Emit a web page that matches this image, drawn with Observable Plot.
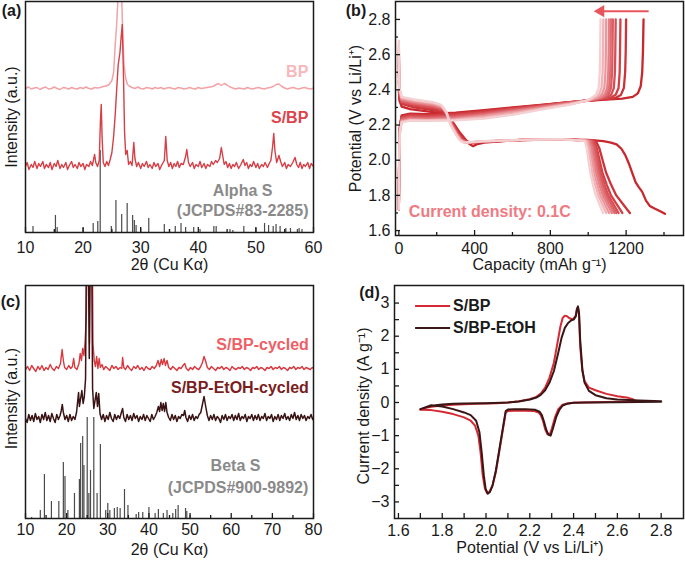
<!DOCTYPE html>
<html><head><meta charset="utf-8">
<script src="https://cdn.jsdelivr.net/npm/d3@7"></script>
<script src="https://cdn.jsdelivr.net/npm/@observablehq/plot@0.6"></script>
<style>
html,body{margin:0;padding:0;background:#fff;}
#wrap{position:relative;width:685px;height:562px;overflow:hidden;background:#fff;}
#wrap > svg{position:absolute;}
</style></head><body><div id="wrap"></div>
<script>
// ---------------- Panel (a): XRD ----------------
const xrdBP = [[10,144],[10.5,145.5],[11,143.5],[11.5,144.5],[12,145],[12.5,143],[13,144.5],[13.5,145.5],[14,143.5],[14.5,144],[15,145.5],[15.5,144],[16,143],[16.5,145],[17,144.5],[17.5,143.5],[18,145],[18.5,144],[19,143.5],[19.5,145],[20,144],[20.5,145.5],[21,144],[21.5,143.5],[22,145],[22.5,144.5],[23,145],[23.5,146],[24,146.5],[24.5,148],[25,152],[25.3,160],[25.6,190],[25.8,205],[26.0,228],[26.2,260],[26.5,260],[26.7,235],[26.9,195],[27.1,168],[27.4,154],[27.7,148],[28,146.5],[28.5,145],[29,144],[29.5,145.5],[30,144],[30.5,143.5],[31,145],[31.5,144.5],[32,143.5],[32.5,145],[33,144],[33.5,145],[34,143.5],[34.5,144.5],[35,145],[35.5,144],[36,143.5],[36.5,145],[37,144.5],[37.5,143.5],[38,144],[38.5,145],[39,144],[39.5,143.5],[40,145],[40.5,144],[41,144.5],[41.5,145],[42,145.5],[42.5,146],[43,147.5],[43.5,149],[44,147],[44.5,149],[45,147.5],[45.5,145.5],[46,144.5],[46.5,143.5],[47,144.5],[47.5,144],[48,143.5],[48.5,145],[49,144],[49.5,143.5],[50,144.5],[50.5,145],[51,144],[51.5,143.5],[52,144.5],[52.5,145],[53,146],[53.5,148],[54,148.5],[54.5,146],[55,144.5],[55.5,143.5],[56,144.5],[56.5,145],[57,144],[57.5,143.5],[58,144.5],[58.5,145],[59,144],[59.5,143.5],[60,144.5]];
const xrdSBP = [[10,66],[10.3,70],[10.6,63],[11,68],[11.3,65],[11.6,71],[12,64],[12.3,69],[12.6,66],[13,71],[13.3,64],[13.6,68],[14,65],[14.3,70],[14.6,63],[15,69],[15.3,66],[15.6,72],[16,64],[16.3,68],[16.6,65],[17,70],[17.3,63],[17.6,67],[18,71],[18.3,65],[18.6,68],[19,64],[19.3,70],[19.6,66],[20,69],[20.3,63],[20.6,68],[21,66],[21.3,71],[21.6,67],[22,78],[22.2,70],[22.5,66],[22.8,72],[23.0,110],[23.15,128],[23.3,95],[23.5,70],[23.8,66],[24.1,71],[24.4,67],[24.7,73],[25.0,80],[25.3,96],[25.6,120],[25.9,150],[26.1,168],[26.4,180],[26.6,195],[26.8,208],[27.0,160],[27.2,100],[27.4,78],[27.65,82],[27.9,68],[28.2,71],[28.5,67],[28.8,90],[29.0,74],[29.3,66],[29.6,70],[30,64],[30.3,69],[30.6,66],[31,71],[31.3,65],[31.6,68],[32,64],[32.3,70],[32.6,66],[33,69],[33.3,63],[33.7,68],[34.1,72],[34.35,96],[34.6,72],[34.9,66],[35.2,70],[35.5,64],[35.8,69],[36.1,66],[36.4,71],[36.7,65],[37.0,69],[37.4,68],[37.8,76],[38.0,83],[38.3,70],[38.6,66],[39,70],[39.3,64],[39.6,68],[40,66],[40.3,71],[40.6,65],[41,69],[41.3,64],[41.6,68],[42,66],[42.3,71],[42.6,68],[43,72],[43.3,70],[43.7,74],[44.0,85],[44.2,78],[44.5,68],[44.8,71],[45.1,65],[45.4,69],[45.7,64],[46,68],[46.3,66],[46.6,70],[47,64],[47.4,68],[47.8,73],[48.1,67],[48.4,70],[48.7,64],[49,68],[49.3,66],[49.6,71],[50,65],[50.3,69],[50.6,64],[51,68],[51.3,66],[51.6,70],[52,65],[52.3,69],[52.6,72],[52.9,86],[53.1,99],[53.3,82],[53.6,70],[54.0,77],[54.3,71],[54.6,66],[55,70],[55.3,64],[55.6,68],[56,66],[56.4,70],[56.8,75],[57.1,68],[57.4,65],[57.7,70],[58,64],[58.3,68],[58.6,66],[59,70],[59.3,64],[59.6,69],[60,66]];
const alphaS = [[11.3,6],[15.2,17],[15.5,5],[20.0,4],[21.75,9],[22.55,11],[22.97,82],[24.9,6],[25.7,32],[26.7,18],[27.65,29],[28.6,17],[28.9,12],[29.2,7],[30.0,4],[31.4,14],[34.1,8],[35.0,3],[36.0,6],[37.0,9],[37.8,5],[39.2,5],[40.3,3],[42.7,6],[43.1,6],[45.5,3],[46.0,2],[47.9,6],[50.0,4],[51.5,9],[52.2,7],[53.0,6],[53.5,8],[54.2,6],[55.2,4],[56.0,4],[57.2,3],[57.5,4],[58.0,3]];
const aTicksMajor = [10,20,30,40,50,60];
const aTicksMinor = [15,25,35,45,55];

// ---------------- Panel (b): charge/discharge ----------------
const cycleColors = ["#c8282d","#cd3439","#d14046","#d64d53","#da5b61","#df6d72","#e48186","#ea989c","#f0b3b6","#f5d0d2"];
const dischargeCurves = [
 [[0,2.40],[3,2.34],[15,2.305],[60,2.29],[130,2.28],[200,2.27],[245,2.262],[270,2.24],[295,2.20],[320,2.16],[350,2.12],[375,2.09],[392,2.08],[410,2.09],[450,2.10],[600,2.112],[800,2.118],[1000,2.115],[1080,2.108],[1120,2.10],[1150,2.09],[1175,2.065],[1195,2.03],[1215,1.98],[1235,1.92],[1250,1.875],[1265,1.85],[1285,1.82],[1305,1.77],[1325,1.74],[1350,1.725],[1380,1.71],[1405,1.695]],
 [[0,2.45],[3,2.36],[15,2.32],[80,2.30],[180,2.285],[240,2.27],[265,2.24],[290,2.20],[318,2.15],[345,2.115],[375,2.10],[450,2.105],[650,2.115],[850,2.12],[1040,2.11],[1058,2.07],[1076,2.0],[1094,1.93],[1121,1.86],[1148,1.80],[1184,1.75],[1220,1.70]],
 [[0,2.50],[3,2.37],[15,2.325],[80,2.31],[180,2.295],[237,2.28],[262,2.245],[287,2.20],[314,2.15],[340,2.115],[370,2.10],[450,2.105],[650,2.115],[850,2.12],[1030,2.11],[1045,2.07],[1060,2.0],[1075,1.93],[1098,1.86],[1120,1.80],[1150,1.75],[1180,1.70]],
 [[0,2.54],[3,2.38],[15,2.33],[80,2.315],[180,2.30],[235,2.285],[260,2.25],[285,2.20],[311,2.15],[337,2.115],[366,2.10],[450,2.105],[650,2.115],[850,2.12],[1025,2.11],[1039,2.07],[1052,2.0],[1066,1.93],[1086,1.86],[1106,1.80],[1133,1.75],[1160,1.70]],
 [[0,2.57],[3,2.39],[15,2.335],[80,2.32],[180,2.305],[233,2.29],[258,2.255],[283,2.20],[309,2.15],[334,2.115],[362,2.10],[450,2.106],[650,2.115],[850,2.12],[1020,2.11],[1033,2.07],[1046,2.0],[1058,1.93],[1078,1.86],[1097,1.80],[1122,1.75],[1148,1.70]],
 [[0,2.60],[3,2.39],[15,2.34],[80,2.325],[180,2.31],[231,2.295],[256,2.26],[281,2.20],[307,2.15],[331,2.115],[358,2.10],[450,2.106],[650,2.115],[850,2.12],[1012,2.11],[1025,2.07],[1037,2.0],[1050,1.93],[1069,1.86],[1088,1.80],[1113,1.75],[1138,1.70]],
 [[0,2.62],[3,2.40],[15,2.345],[80,2.33],[180,2.315],[229,2.30],[254,2.265],[279,2.20],[305,2.15],[328,2.115],[354,2.10],[450,2.107],[650,2.115],[850,2.12],[1005,2.11],[1017,2.07],[1029,2.0],[1041,1.93],[1059,1.86],[1077,1.80],[1101,1.75],[1125,1.70]],
 [[0,2.64],[3,2.40],[15,2.35],[80,2.335],[180,2.32],[227,2.305],[252,2.27],[277,2.20],[303,2.15],[325,2.115],[350,2.10],[450,2.107],[650,2.115],[850,2.12],[998,2.11],[1009,2.07],[1020,2.0],[1032,1.93],[1048,1.86],[1065,1.80],[1088,1.75],[1110,1.70]],
 [[0,2.66],[3,2.41],[15,2.355],[80,2.34],[180,2.325],[225,2.31],[250,2.275],[275,2.20],[301,2.15],[322,2.115],[346,2.10],[450,2.108],[650,2.115],[850,2.12],[990,2.11],[1000,2.07],[1011,2.0],[1021,1.93],[1037,1.86],[1053,1.80],[1074,1.75],[1095,1.70]],
 [[0,2.68],[3,2.41],[15,2.36],[80,2.345],[180,2.33],[223,2.315],[248,2.28],[273,2.20],[299,2.15],[320,2.115],[342,2.10],[450,2.108],[650,2.115],[850,2.12],[982,2.11],[992,2.07],[1001,2.0],[1011,1.93],[1025,1.86],[1040,1.80],[1059,1.75],[1078,1.70]]
];
const chargeCurves = [
 [[0,1.72],[2,2.05],[6,2.2],[15,2.255],[60,2.265],[150,2.262],[300,2.27],[450,2.285],[600,2.30],[750,2.315],[900,2.33],[1050,2.342],[1180,2.35],[1235,2.36],[1262,2.38],[1277,2.42],[1285,2.5],[1289,2.62],[1292,2.80]],
 [[0,1.72],[2,2.04],[6,2.19],[15,2.25],[60,2.26],[150,2.257],[300,2.265],[450,2.28],[600,2.297],[750,2.313],[900,2.33],[1050,2.343],[1140,2.352],[1172,2.37],[1188,2.41],[1195,2.5],[1198,2.62],[1200,2.80]],
 [[0,1.72],[2,2.03],[6,2.19],[15,2.245],[60,2.255],[150,2.252],[300,2.26],[450,2.275],[600,2.294],[750,2.311],[900,2.329],[1050,2.344],[1118,2.355],[1145,2.372],[1160,2.41],[1166,2.5],[1168,2.62],[1170,2.80]],
 [[0,1.72],[2,2.03],[6,2.18],[15,2.24],[60,2.25],[150,2.247],[300,2.254],[450,2.27],[600,2.29],[750,2.309],[900,2.328],[1040,2.345],[1095,2.355],[1121,2.372],[1135,2.41],[1141,2.5],[1143,2.62],[1145,2.80]],
 [[0,1.72],[2,2.02],[6,2.18],[15,2.235],[60,2.245],[150,2.242],[300,2.249],[450,2.265],[600,2.286],[750,2.306],[900,2.327],[1030,2.345],[1080,2.355],[1106,2.372],[1120,2.41],[1126,2.5],[1128,2.62],[1130,2.80]],
 [[0,1.72],[2,2.02],[6,2.18],[15,2.23],[60,2.24],[150,2.237],[300,2.244],[450,2.26],[600,2.282],[750,2.303],[900,2.325],[1025,2.345],[1070,2.355],[1096,2.372],[1110,2.41],[1116,2.5],[1118,2.62],[1120,2.80]],
 [[0,1.72],[2,2.01],[6,2.17],[15,2.225],[60,2.235],[150,2.232],[300,2.239],[450,2.255],[600,2.278],[750,2.30],[900,2.323],[1020,2.345],[1060,2.355],[1086,2.372],[1100,2.41],[1106,2.5],[1108,2.62],[1110,2.80]],
 [[0,1.72],[2,2.01],[6,2.17],[15,2.22],[60,2.23],[150,2.228],[300,2.234],[450,2.25],[600,2.272],[750,2.296],[900,2.32],[1010,2.342],[1045,2.355],[1071,2.372],[1085,2.41],[1091,2.5],[1093,2.62],[1095,2.80]],
 [[0,1.72],[2,2.0],[6,2.17],[15,2.218],[60,2.228],[150,2.226],[300,2.23],[450,2.243],[600,2.265],[750,2.292],[900,2.318],[1000,2.34],[1030,2.355],[1056,2.372],[1070,2.41],[1076,2.5],[1078,2.62],[1080,2.80]],
 [[0,1.72],[2,2.0],[6,2.16],[15,2.215],[60,2.225],[150,2.223],[300,2.226],[450,2.236],[600,2.258],[750,2.288],[900,2.315],[990,2.338],[1015,2.352],[1041,2.372],[1055,2.41],[1061,2.5],[1063,2.62],[1065,2.80]]
];
const bXMajor = [0,400,800,1200];
const bXMinor = [200,600,1000,1400];
const bYMajor = [1.6,1.8,2.0,2.2,2.4,2.6,2.8];
const bYMinor = [1.7,1.9,2.1,2.3,2.5,2.7];
const bArrow = [{x1:1319, x2:1070, y:2.847}];
const bArrowHead = [{x:1066, y:2.847}];
const bNote = [{x:53, y:1.708, text:"Current density: 0.1C"}];

// ---------------- Panel (c): XRD cycled ----------------
const xrdCycled = [[10,149],[10.5,152],[11,148],[11.5,153],[12,150],[12.5,147],[13,152],[13.5,149],[14,153],[14.5,148],[15,151],[15.5,149],[16,154],[16.5,150],[17,148],[17.5,152],[18,150],[18.5,155],[18.9,169],[19.2,158],[19.5,151],[20,149],[20.5,153],[21,150],[21.4,152],[21.7,160],[22,151],[22.5,149],[23,155],[23.3,165],[23.6,158],[23.9,170],[24.2,163],[24.5,178],[24.8,205],[25.0,300],[25.3,300],[25.55,175],[25.8,300],[26.2,300],[26.4,175],[26.7,158],[27.0,152],[27.3,162],[27.6,150],[27.9,160],[28.2,151],[28.6,154],[29,149],[29.5,152],[30,150],[30.5,148],[31,153],[31.5,150],[32,152],[32.5,149],[33,151],[33.4,150],[33.6,161],[33.9,151],[34.3,149],[34.8,153],[35.3,150],[35.8,148],[36.3,152],[36.8,150],[37.3,153],[37.8,149],[38.3,151],[38.8,148],[39.3,152],[39.8,150],[40.3,149],[40.8,152],[41.3,150],[41.8,153],[42.2,158],[42.6,152],[43.0,159],[43.3,154],[43.7,160],[44.0,153],[44.4,158],[44.8,151],[45.3,149],[45.8,152],[46.3,150],[46.8,148],[47.3,151],[47.8,150],[48.3,153],[48.7,155],[49.1,150],[49.6,148],[50.1,151],[50.6,149],[51.1,152],[51.6,150],[52.1,149],[52.6,152],[53.0,156],[53.4,162],[53.8,157],[54.2,151],[54.7,149],[55.2,152],[55.7,150],[56.2,148],[56.7,151],[57.2,150],[57.7,152],[58.2,149],[58.7,151],[59.2,150],[59.7,148],[60.2,152],[60.7,150],[61.2,149],[61.7,151],[62.2,150],[62.7,152],[63.2,149],[63.7,151],[64.2,150],[64.7,148],[65.2,151],[65.7,150],[66.2,152],[66.7,149],[67.2,151],[67.7,150],[68.2,148],[68.7,151],[69.2,150],[69.7,152],[70.2,149],[70.7,151],[71.2,150],[71.7,152],[72.2,149],[72.7,151],[73.2,150],[73.7,148],[74.2,151],[74.7,150],[75.2,152],[75.7,149],[76.2,151],[76.7,150],[77.2,152],[77.7,149],[78.2,151],[78.7,150],[79.2,149],[79.7,151],[80,150]];
const xrdEtOHCycled = [[10,100],[10.4,96],[10.8,104],[11.2,98],[11.6,103],[12,97],[12.4,105],[12.8,99],[13.2,102],[13.6,96],[14,104],[14.4,99],[14.8,106],[15.2,98],[15.6,103],[16,97],[16.4,105],[16.8,100],[17.2,96],[17.6,104],[18,99],[18.4,103],[18.7,108],[18.95,114],[19.2,106],[19.6,99],[20,103],[20.4,97],[20.8,104],[21.2,98],[21.6,102],[22,99],[22.4,106],[22.7,118],[22.9,126],[23.1,112],[23.4,120],[23.7,128],[24.0,115],[24.3,122],[24.6,140],[24.85,300],[25.2,300],[25.5,160],[25.75,300],[26.05,300],[26.3,130],[26.6,110],[26.9,118],[27.2,126],[27.5,112],[27.8,125],[28.1,105],[28.5,99],[28.9,104],[29.3,97],[29.7,103],[30.1,99],[30.5,106],[30.9,100],[31.3,97],[31.7,104],[32.1,99],[32.5,103],[32.9,100],[33.3,106],[33.6,110],[33.9,101],[34.3,97],[34.7,104],[35.1,99],[35.5,103],[35.9,98],[36.3,105],[36.7,100],[37.1,103],[37.5,97],[37.9,102],[38.3,99],[38.7,104],[39.1,98],[39.5,103],[39.9,100],[40.3,97],[40.7,104],[41.1,99],[41.5,102],[41.9,106],[42.3,112],[42.6,107],[42.9,116],[43.2,108],[43.5,115],[43.8,107],[44.1,116],[44.4,106],[44.8,101],[45.2,98],[45.6,104],[46,99],[46.4,103],[46.8,97],[47.2,102],[47.6,100],[48,104],[48.4,103],[48.7,108],[49.0,101],[49.4,97],[49.8,103],[50.2,99],[50.6,104],[51,98],[51.4,102],[51.8,100],[52.2,104],[52.6,106],[53.0,114],[53.4,122],[53.8,112],[54.2,103],[54.6,98],[55,103],[55.4,99],[55.8,104],[56.2,98],[56.6,102],[57,100],[57.4,96],[57.8,103],[58.2,99],[58.6,104],[59,98],[59.4,102],[59.8,100],[60.2,104],[60.6,98],[61,103],[61.4,99],[61.8,105],[62.2,98],[62.6,102],[63,100],[63.4,104],[63.8,97],[64.2,102],[64.6,100],[65,104],[65.4,98],[65.8,103],[66.2,99],[66.6,104],[67,98],[67.4,102],[67.8,100],[68.2,105],[68.6,98],[69,102],[69.4,100],[69.8,104],[70.2,97],[70.6,102],[71,99],[71.4,104],[71.8,98],[72.2,103],[72.6,100],[73,105],[73.4,99],[73.8,102],[74.2,98],[74.6,104],[75,100],[75.4,106],[75.8,99],[76.2,103],[76.6,98],[77,104],[77.4,100],[77.8,103],[78.2,98],[78.6,102],[79,100],[79.4,104],[79.8,99],[80,101]];
const betaS = [[11.5,1],[13.6,8],[14.6,44],[16.3,17],[18.1,17],[19.2,56],[19.6,42],[20.3,8],[21.9,25],[23.1,39],[23.4,75],[23.9,82],[24.2,53],[25.0,101],[25.4,25],[25.8,48],[26.6,101],[27.4,25],[28.2,74],[29.5,8],[30.0,15],[30.5,8],[31.6,10],[32.3,11],[33.0,10],[34.06,29],[34.9,13],[36.9,4],[37.5,6],[38.5,6],[40.0,11],[41.5,5],[42.3,9],[43.5,5],[44.4,8],[45.8,5],[46.5,9],[47.1,13],[48.9,10],[49.2,7],[50.0,3]];
const cTicksMajor = [10,20,30,40,50,60,70,80];
const cTicksMinor = [15,25,35,45,55,65,75];

// ---------------- Panel (d): CV ----------------
const cvSBP = [[1.70,-0.22],[1.72,-0.17],[1.75,-0.13],[1.80,-0.09],[1.85,-0.07],[1.90,-0.05],[1.95,-0.04],[2.00,-0.03],[2.05,-0.02],[2.10,0.0],[2.15,0.04],[2.20,0.10],[2.23,0.17],[2.25,0.27],[2.27,0.45],[2.29,0.75],[2.31,1.2],[2.325,1.75],[2.34,2.3],[2.35,2.55],[2.36,2.62],[2.37,2.60],[2.38,2.55],[2.39,2.52],[2.40,2.53],[2.41,2.62],[2.415,2.82],[2.42,2.88],[2.425,2.6],[2.43,1.7],[2.44,0.95],[2.45,0.65],[2.47,0.45],[2.50,0.37],[2.55,0.26],[2.60,0.19],[2.65,0.14],[2.67,0.10],[2.68,0.06],[2.68,0.03],[2.6,0.02],[2.5,0.01],[2.45,0.0],[2.4,-0.01],[2.37,-0.03],[2.35,-0.07],[2.33,-0.2],[2.315,-0.45],[2.30,-0.8],[2.29,-0.98],[2.28,-0.95],[2.27,-0.8],[2.26,-0.55],[2.25,-0.38],[2.24,-0.3],[2.22,-0.26],[2.18,-0.25],[2.13,-0.25],[2.10,-0.26],[2.09,-0.3],[2.085,-0.5],[2.075,-0.9],[2.06,-1.5],[2.045,-2.1],[2.03,-2.5],[2.015,-2.7],[2.005,-2.74],[1.995,-2.6],[1.985,-2.2],[1.975,-1.5],[1.965,-1.0],[1.95,-0.7],[1.93,-0.55],[1.90,-0.45],[1.85,-0.35],[1.80,-0.28],[1.75,-0.23],[1.70,-0.22]];
const cvEtOH = [[1.70,-0.2],[1.75,-0.1],[1.80,-0.06],[1.85,-0.04],[1.9,-0.03],[2.0,-0.02],[2.1,0.0],[2.15,0.03],[2.2,0.09],[2.23,0.15],[2.25,0.23],[2.27,0.37],[2.29,0.6],[2.31,0.95],[2.33,1.5],[2.345,1.95],[2.36,2.25],[2.375,2.40],[2.39,2.48],[2.40,2.5],[2.41,2.6],[2.415,2.8],[2.42,2.9],[2.425,2.7],[2.43,1.9],[2.44,1.0],[2.45,0.6],[2.47,0.35],[2.50,0.22],[2.55,0.13],[2.6,0.09],[2.7,0.06],[2.8,0.04],[2.8,0.02],[2.6,0.01],[2.45,0.0],[2.4,-0.01],[2.37,-0.04],[2.35,-0.09],[2.335,-0.22],[2.32,-0.45],[2.305,-0.8],[2.295,-1.0],[2.285,-0.97],[2.275,-0.82],[2.265,-0.58],[2.255,-0.38],[2.245,-0.28],[2.225,-0.22],[2.18,-0.2],[2.13,-0.2],[2.10,-0.21],[2.09,-0.26],[2.085,-0.45],[2.075,-0.85],[2.06,-1.45],[2.045,-2.05],[2.03,-2.5],[2.018,-2.7],[2.008,-2.75],[1.998,-2.6],[1.99,-2.2],[1.98,-1.5],[1.97,-0.9],[1.955,-0.55],[1.93,-0.38],[1.90,-0.3],[1.85,-0.2],[1.80,-0.12],[1.75,-0.08],[1.70,-0.2]];
const dXMajor = [1.6,1.8,2.0,2.2,2.4,2.6,2.8];
const dXMinor = [1.7,1.9,2.1,2.3,2.5,2.7];
const dYMajor = [-3,-2,-1,0,1,2,3];
const dYMinor = [-2.5,-1.5,-0.5,0.5,1.5,2.5];
const dLegend = [{label:"S/BP", color:"#d52a33", x1:1.676, x2:1.836, y:2.91},
                 {label:"S/BP-EtOH", color:"#3a1616", x1:1.676, x2:1.836, y:2.25}];

// ---------------- helpers ----------------
const FONT = '"Liberation Sans", Arial, Helvetica, sans-serif';
const INK = "#1a1a1a";
const baseStyle = {fontFamily: FONT, fontSize: "16px", color: INK, background: "transparent", overflow: "visible"};
function inX(vals, len, plotH) { return Plot.tickX(vals, {x: d => d, insetTop: plotH - len, stroke: INK, strokeWidth: 1.3}); }
function inY(vals, len, plotW) { return Plot.tickY(vals, {y: d => d, insetRight: plotW - len, stroke: INK, strokeWidth: 1.3}); }
function one(s) { return [s]; }
const minusFmt = d => d < 0 ? "\u2212" + Math.abs(d) : String(d);
const wrap = document.getElementById("wrap");
function place(svg, left, top) { svg.style.left = left + "px"; svg.style.top = top + "px"; wrap.appendChild(svg); }
const P = d => d[0], Q = d => d[1];
const C = {textAnchor: "middle", lineAnchor: "middle", fontSize: 16, text: d => d};
function xTitle(s, dx, dy) { return Plot.text(one(s), {...C, frameAnchor: "bottom", dx, dy}); }
function yTitle(s, dx, dy) { return Plot.text(one(s), {...C, frameAnchor: "left", dx, dy, rotate: -90}); }
function tag(s, dx, dy) { return Plot.text(one(s), {...C, frameAnchor: "top-left", dx, dy, fontWeight: "bold"}); }

// ---------------- (a) ----------------
const plotA = Plot.plot({
  width: 340, height: 280, marginTop: 1, marginRight: 27, marginBottom: 48, marginLeft: 25,
  style: baseStyle,
  x: {domain: [10, 60], label: null},
  y: {domain: [0, 231], axis: null, label: null},
  marks: [
    Plot.ruleX(alphaS, {x: P, y1: 0, y2: Q, stroke: "#4a4a4a", strokeWidth: 1.2}),
    Plot.line(xrdBP, {x: P, y: Q, stroke: "#f3a2a6", strokeWidth: 1.5, clip: true}),
    Plot.line(xrdSBP, {x: P, y: Q, stroke: "#d63f46", strokeWidth: 1.4, clip: true}),
    Plot.frame({stroke: INK, strokeWidth: 1.5}),
    inX(aTicksMajor, 5, 231), inX(aTicksMinor, 3, 231),
    Plot.axisX(aTicksMajor, {tickSize: 0, tickPadding: 9, fontSize: 16, label: null, tickFormat: d => String(d)}),
    xTitle("2θ (Cu Kα)", 0, 32),
    yTitle("Intensity (a.u.)", -13.5, 0),
    tag("(a)", -14, 9),
    Plot.text([{x: 59.1, y: 161, t: "BP"}], {x: "x", y: "y", text: "t", textAnchor: "end", fill: "#f8b8bb", fontSize: 16, fontWeight: "bold"}),
    Plot.text([{x: 59.1, y: 114.5, t: "S/BP"}], {x: "x", y: "y", text: "t", textAnchor: "end", fill: "#dd434b", fontSize: 16, fontWeight: "bold"}),
    Plot.text([{x: 47.7, y: 42, t: "Alpha S"}, {x: 47.7, y: 21.5, t: "(JCPDS#83-2285)"}], {x: "x", y: "y", text: "t", fill: "#8a8a8a", fontSize: 16, fontWeight: "bold"})
  ]
});
place(plotA, 0, 0);

// ---------------- (b) ----------------
const bMarks = [];
for (let i = 0; i < cycleColors.length; i++) {
  bMarks.push(Plot.line(dischargeCurves[i], {x: P, y: Q, stroke: cycleColors[i], strokeWidth: 2.3, strokeLinejoin: "round"}));
  bMarks.push(Plot.line(chargeCurves[i], {x: P, y: Q, stroke: cycleColors[i], strokeWidth: 2.3, strokeLinejoin: "round"}));
}
const plotB = Plot.plot({
  width: 345, height: 280, marginTop: 1, marginRight: 2, marginBottom: 45, marginLeft: 55,
  style: baseStyle,
  x: {domain: [-17.6, 1503], label: null},
  y: {domain: [1.572, 2.902], label: null},
  marks: [
    ...bMarks,
    Plot.link(bArrow, {x1: "x1", x2: "x2", y1: "y", y2: "y", stroke: "#e8555c", strokeWidth: 2}),
    Plot.dot(bArrowHead, {x: "x", y: "y", symbol: "triangle", rotate: -90, r: 4.5, fill: "#e8555c", stroke: "none"}),
    Plot.text(bNote, {x: "x", y: "y", text: "text", textAnchor: "start", fill: "#f07a82", fontSize: 16, fontWeight: "bold"}),
    Plot.frame({stroke: INK, strokeWidth: 1.5}),
    inX(bXMajor, 5, 234), inX(bXMinor, 3, 234),
    inY(bYMajor, 5, 288), inY(bYMinor, 3, 288),
    Plot.axisX(bXMajor, {tickSize: 0, tickPadding: 7, fontSize: 16, label: null, tickFormat: d => String(d)}),
    Plot.axisY(bYMajor, {tickSize: 0, tickPadding: 5, fontSize: 16, label: null, tickFormat: d => d.toFixed(1)}),
    xTitle("Capacity (mAh g\u207B\u00B9)", 0, 29),
    yTitle("Potential (V vs Li/Li\u207A)", -40, 0),
    tag("(b)", -39.5, 9)
  ]
});
place(plotB, 340, 0);

// ---------------- (c) ----------------
const plotC = Plot.plot({
  width: 340, height: 282, marginTop: 5, marginRight: 27, marginBottom: 44, marginLeft: 25,
  style: baseStyle,
  x: {domain: [10, 80], label: null},
  y: {domain: [0, 233], axis: null, label: null},
  marks: [
    Plot.ruleX(betaS, {x: P, y1: 0, y2: Q, stroke: "#4a4a4a", strokeWidth: 1.2}),
    Plot.line(xrdCycled, {x: P, y: Q, stroke: "#d9383f", strokeWidth: 1.4, clip: true}),
    Plot.line(xrdEtOHCycled, {x: P, y: Q, stroke: "#3a1414", strokeWidth: 1.5, clip: true}),
    Plot.frame({stroke: INK, strokeWidth: 1.5}),
    inX(cTicksMajor, 5, 233), inX(cTicksMinor, 3, 233),
    Plot.axisX(cTicksMajor, {tickSize: 0, tickPadding: 5, fontSize: 16, label: null, tickFormat: d => String(d)}),
    xTitle("2θ (Cu Kα)", 0, 31),
    yTitle("Intensity (a.u.)", -13.5, -3.5),
    tag("(c)", -15, 16),
    Plot.text([{x: 78.86, y: 174, t: "S/BP-cycled"}], {x: "x", y: "y", text: "t", textAnchor: "end", fill: "#ee5f67", fontSize: 16, fontWeight: "bold"}),
    Plot.text([{x: 78.86, y: 131, t: "S/BP-EtOH-cycled"}], {x: "x", y: "y", text: "t", textAnchor: "end", fill: "#7a1d21", fontSize: 16, fontWeight: "bold"}),
    Plot.text([{x: 61.04, y: 52.5, t: "Beta S"}, {x: 61.65, y: 31, t: "(JCPDS#900-9892)"}], {x: "x", y: "y", text: "t", fill: "#8a8a8a", fontSize: 16, fontWeight: "bold"})
  ]
});
place(plotC, 0, 280);

// ---------------- (d) ----------------
const plotD = Plot.plot({
  width: 345, height: 282, marginTop: 5, marginRight: 2, marginBottom: 44, marginLeft: 54,
  style: baseStyle,
  x: {domain: [1.582, 2.902], label: null},
  y: {domain: [-3.5, 3.53], label: null},
  marks: [
    Plot.line(cvSBP, {x: P, y: Q, stroke: "#d52a33", strokeWidth: 2, strokeLinejoin: "round"}),
    Plot.line(cvEtOH, {x: P, y: Q, stroke: "#3a1616", strokeWidth: 2, strokeLinejoin: "round"}),
    Plot.link(dLegend, {x1: "x1", x2: "x2", y1: "y", y2: "y", stroke: "color", strokeWidth: 2}),
    Plot.text(dLegend, {x: "x2", y: "y", text: "label", dx: 3, textAnchor: "start", fill: INK, fontSize: 16, fontWeight: "bold"}),
    Plot.frame({stroke: INK, strokeWidth: 1.5}),
    inX(dXMajor, 5, 233), inX(dXMinor, 5, 233),
    inY(dYMajor, 5, 289), inY(dYMinor, 5, 289),
    Plot.axisX(dXMajor, {tickSize: 0, tickPadding: 6, fontSize: 16, label: null, tickFormat: d => d.toFixed(1)}),
    Plot.axisY(dYMajor, {tickSize: 0, tickPadding: 5, fontSize: 16, label: null, tickFormat: minusFmt}),
    xTitle("Potential (V vs Li/Li\u207A)", -9, 29),
    yTitle("Current density (A g\u207B\u00B9)", -31, 4),
    tag("(d)", -25, 7)
  ]
});
place(plotD, 340, 280);
</script></body></html>
